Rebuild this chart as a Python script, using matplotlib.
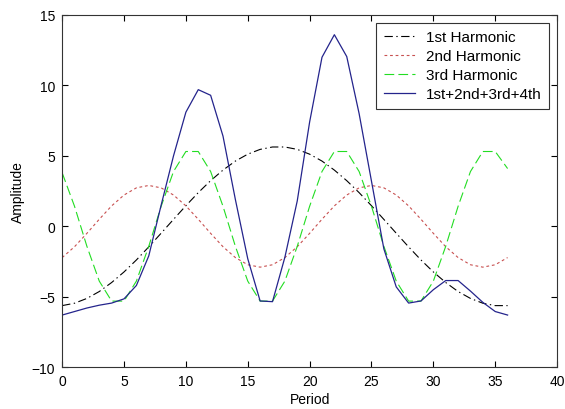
from matplotlib import pyplot as plt

plt.rcParams['font.family'] = ['Liberation Sans', 'DejaVu Sans']
plt.rcParams['font.size'] = 10
plt.rcParams['lines.scale_dashes'] = False

period = list(range(0, 37))

first = [-5.63, -5.46, -5.12, -4.63, -3.99, -3.24, -2.39, -1.46, -0.49, 0.49,
         1.46, 2.39, 3.24, 3.99, 4.63, 5.12, 5.46, 5.63, 5.63, 5.46,
         5.12, 4.63, 3.99, 3.24, 2.39, 1.46, 0.49, -0.49, -1.46, -2.39,
         -3.24, -3.99, -4.63, -5.12, -5.46, -5.63, -5.63]

second = [-2.22, -1.45, -0.50, 0.50, 1.45, 2.22, 2.73, 2.90, 2.73, 2.22,
          1.45, 0.50, -0.50, -1.45, -2.22, -2.73, -2.90, -2.73, -2.22, -1.45,
          -0.50, 0.50, 1.45, 2.22, 2.73, 2.90, 2.73, 2.22, 1.45, 0.50,
          -0.50, -1.45, -2.22, -2.73, -2.90, -2.73, -2.22]

third = [3.8, 1.42, -1.42, -3.89, -5.31, -5.31, -3.89, -1.42, 1.42, 3.89,
         5.31, 5.31, 3.89, 1.42, -1.42, -3.89, -5.31, -5.31, -3.89, -1.42,
         1.42, 3.89, 5.31, 5.31, 3.89, 1.42, -1.42, -3.89, -5.31, -5.31,
         -3.89, -1.42, 1.42, 3.89, 5.31, 5.31, 4.1]

total = [-6.3, -6.05, -5.8, -5.6, -5.45, -5.15, -4.2, -2.1, 1.5, 5.0,
         8.1, 9.7, 9.3, 6.4, 1.9, -2.3, -5.3, -5.35, -2.2, 1.8,
         7.4, 12.0, 13.6, 12.05, 8.0, 3.2, -1.6, -4.3, -5.45, -5.3,
         -4.5, -3.85, -3.85, -4.6, -5.4, -6.05, -6.3]

labels = ['1st Harmonic', '2nd Harmonic', '3rd Harmonic', '1st+2nd+3rd+4th']

fig = plt.figure(figsize=(5.65, 4.10), dpi=100)
ax = fig.add_axes([0.11, 0.102, 0.876, 0.859])

ax.plot(period, first, color='k', lw=0.8, dashes=(6, 2.5, 1, 2.5), label=labels[0])
ax.plot(period, second, color='#c85050', lw=0.8, dashes=(2, 2), label=labels[1])
ax.plot(period, third, color='#22dd22', lw=0.8, dashes=(7, 3), label=labels[2])
ax.plot(period, total, color='#24248c', lw=0.9, label=labels[3])

ax.set_xlim(0, 40)
ax.set_ylim(-10, 15)
ax.set_xticks(range(0, 41, 5))
ax.set_yticks(range(-10, 16, 5))
ax.tick_params(direction='in', length=4, top=True, right=True, width=0.8, pad=5)
for s in ax.spines.values():
    s.set_linewidth(0.8)
    s.set_color('#333333')

ax.set_xlabel('Period', labelpad=3)
ax.set_ylabel('Amplitude', labelpad=5)

leg = ax.legend(loc='upper right', fancybox=False, framealpha=1, edgecolor='#333333',
                fontsize=11, labelspacing=0.32, borderaxespad=0.5,
                handlelength=2.0, handletextpad=0.75, borderpad=0.5)
leg.get_frame().set_linewidth(0.8)

fig.savefig('out.png', dpi=100)
